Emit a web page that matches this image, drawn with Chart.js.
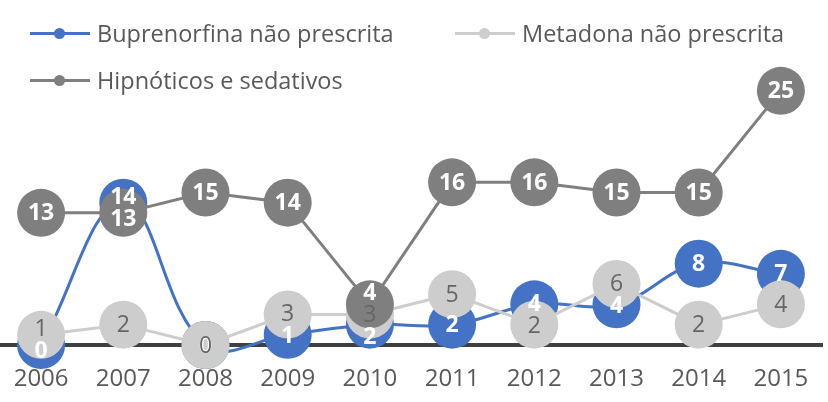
<!DOCTYPE html>
<html>
<head>
<meta charset="utf-8">
<script src="https://cdn.jsdelivr.net/npm/chart.js@4.4.1/dist/chart.umd.min.js"></script>
<style>
  html, body { margin: 0; padding: 0; background: #fff; }
  #wrap { position: relative; width: 828px; height: 402px; }
  #legend { position: absolute; left: 0; top: 0; width: 828px; height: 110px; font-family: "Open Sans", sans-serif; font-size: 23.5px; color: #595959; }
  .item { position: absolute; display: flex; align-items: center; height: 30px; white-space: nowrap; }
  .mark { position: relative; width: 60px; height: 3px; margin-right: 7px; }
  .mark i { position: absolute; left: 24px; top: -4px; width: 11px; height: 11px; border-radius: 50%; }
</style>
</head>
<body>
<div id="wrap">
  <canvas id="chart" width="828" height="402"></canvas>
  <div id="legend"></div>
</div>
<script>
// Years on the x axis
const years = ["2006", "2007", "2008", "2009", "2010", "2011", "2012", "2013", "2014", "2015"];

// Series values
const buprenorfina = [0, 14, 0, 1, 2, 2, 4, 4, 8, 7];
const metadona = [1, 2, 0, 3, 3, 5, 2, 6, 2, 4];
const hipnoticos = [13, 13, 15, 14, 4, 16, 16, 15, 15, 25];

const seriesNames = ["Buprenorfina não prescrita", "Metadona não prescrita", "Hipnóticos e sedativos"];

const BLUE = "#4472C4";
const LIGHT = "#CDCDCD";
const DARK = "#7F7F7F";

// Draw value labels on top of every point, spreading labels that collide
const pointLabels = {
  id: "pointLabels",
  afterDatasetsDraw(chart) {
    const ctx = chart.ctx;
    const items = [];
    chart.data.datasets.forEach((ds, di) => {
      const meta = chart.getDatasetMeta(di);
      meta.data.forEach((pt, i) => {
        items.push({ i, x: pt.x, y: pt.y, text: String(ds.data[i]), color: ds.labelColor, weight: ds.labelWeight });
      });
    });

    const minGap = 22;
    years.forEach((_, i) => {
      const group = items.filter(it => it.i === i).sort((a, b) => a.y - b.y);
      for (let pass = 0; pass < 10; pass++) {
        for (let k = 1; k < group.length; k++) {
          const gap = group[k].y - group[k - 1].y;
          // identical points stay stacked, the later series covers the earlier one
          if (gap > 0.5 && gap < minGap) {
            const d = (minGap - gap) / 2;
            group[k - 1].y -= d;
            group[k].y += d;
          }
        }
      }
    });

    ctx.save();
    ctx.textAlign = "center";
    ctx.textBaseline = "middle";
    items.forEach(it => {
      ctx.font = it.weight + " 23px 'Open Sans', sans-serif";
      ctx.fillStyle = it.color;
      ctx.fillText(it.text, it.x, it.y + 1);
    });
    ctx.restore();
  }
};

const chart = new Chart(document.getElementById("chart"), {
  type: "line",
  data: {
    labels: years,
    datasets: [
      {
        label: seriesNames[0],
        data: buprenorfina,
        borderColor: BLUE,
        backgroundColor: BLUE,
        pointBackgroundColor: BLUE,
        tension: 0.4,
        order: 3,
        labelColor: "#ffffff",
        labelWeight: "bold"
      },
      {
        label: seriesNames[1],
        data: metadona,
        borderColor: LIGHT,
        backgroundColor: LIGHT,
        pointBackgroundColor: LIGHT,
        tension: 0,
        order: 2,
        labelColor: "#666666",
        labelWeight: "normal"
      },
      {
        label: seriesNames[2],
        data: hipnoticos,
        borderColor: DARK,
        backgroundColor: DARK,
        pointBackgroundColor: DARK,
        tension: 0,
        order: 1,
        labelColor: "#ffffff",
        labelWeight: "bold"
      }
    ]
  },
  options: {
    responsive: false,
    animation: false,
    events: [],
    layout: { autoPadding: false, padding: { left: 0, right: 6, top: 40, bottom: 0 } },
    elements: {
      line: { borderWidth: 3, capBezierPoints: false },
      point: { radius: 24, borderWidth: 0, hoverRadius: 24 }
    },
    datasets: { line: { clip: false } },
    scales: {
      x: {
        offset: true,
        grid: { display: false, drawTicks: false },
        border: { display: true, color: "#404040", width: 4 },
        ticks: {
          padding: 20,
          color: "#595959",
          font: { family: "'Open Sans', sans-serif", size: 24 }
        },
        afterFit(scale) {
          // keep the plot full width and the axis line at the reference height
          scale.height = 57;
          scale.paddingLeft = 0;
          scale.paddingRight = 0;
        }
      },
      y: {
        display: false,
        min: 0,
        max: 30
      }
    },
    plugins: {
      legend: { display: false },
      tooltip: { enabled: false }
    }
  },
  plugins: [pointLabels]
});

// Legend built from the datasets
const legendPos = [
  { left: 30, top: 18 },
  { left: 455, top: 18 },
  { left: 30, top: 65 }
];
const legend = document.getElementById("legend");
chart.data.datasets.forEach((ds, i) => {
  const item = document.createElement("div");
  item.className = "item";
  item.style.left = legendPos[i].left + "px";
  item.style.top = legendPos[i].top + "px";
  item.innerHTML = '<span class="mark" style="background:' + ds.borderColor + '"><i style="background:' + ds.borderColor + '"></i></span><span>' + ds.label + '</span>';
  legend.appendChild(item);
});
</script>
</body>
</html>
